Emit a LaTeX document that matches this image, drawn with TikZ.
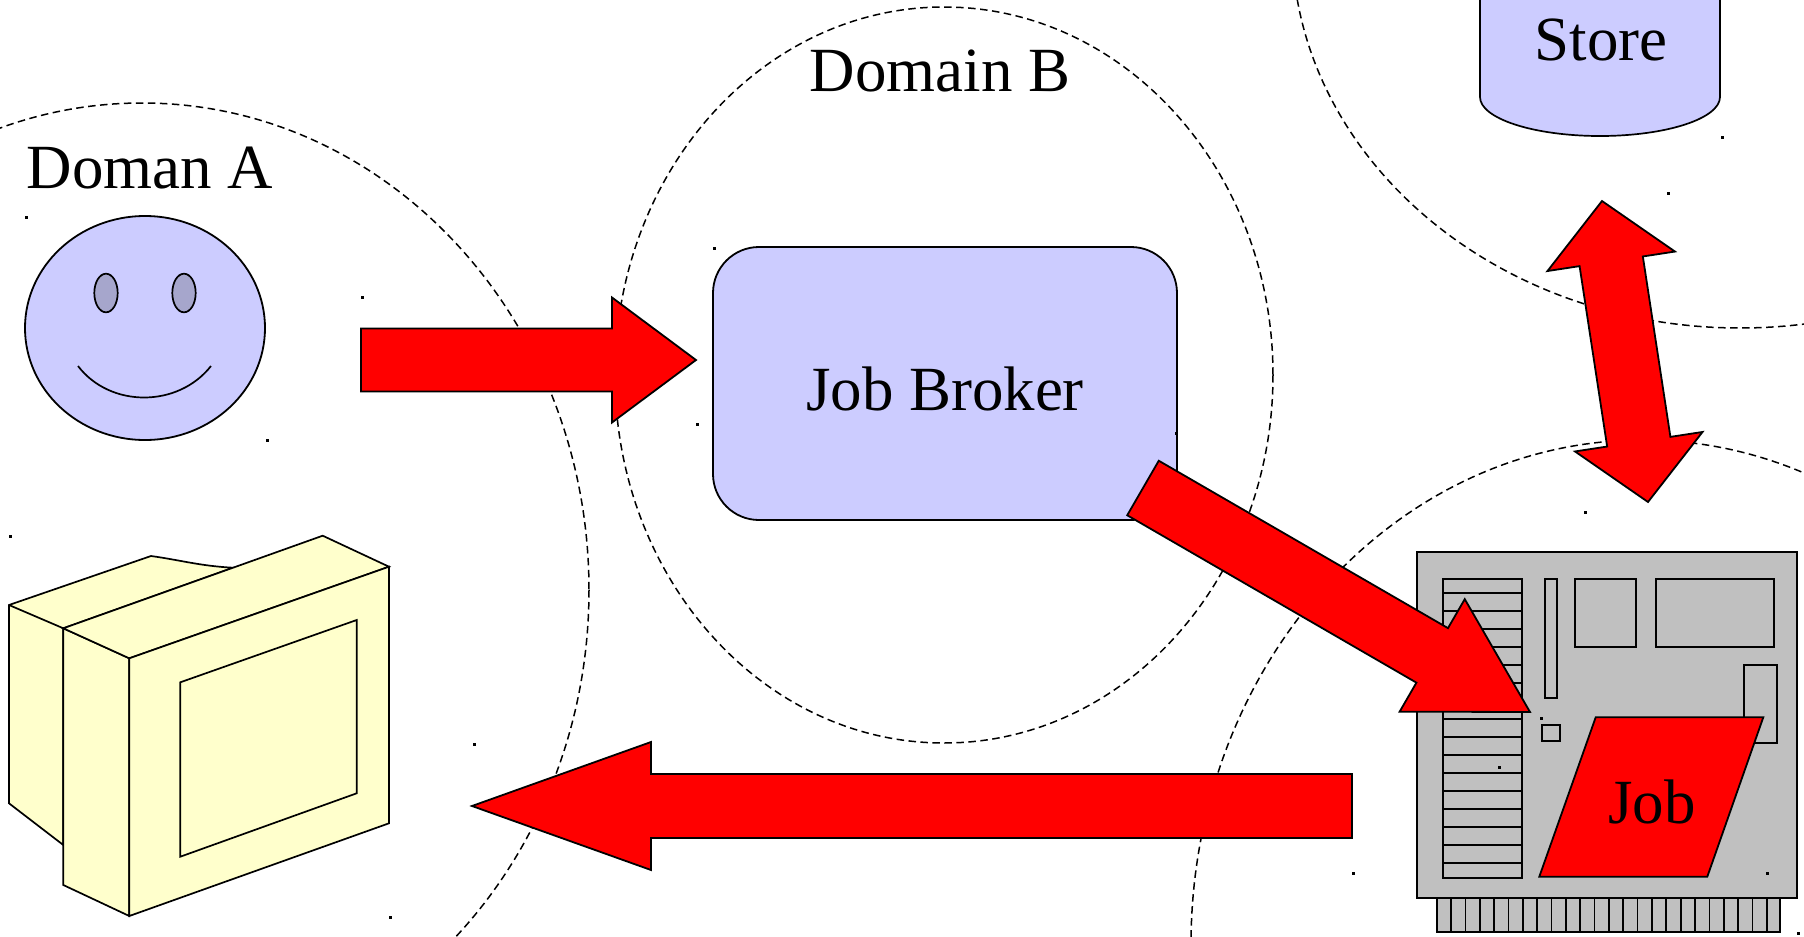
\documentclass[tikz,border=0pt]{standalone}
\usepackage{fontspec}
\setmainfont{Liberation Serif}
\usetikzlibrary{calc}
\usetikzlibrary{shapes.geometric}
\definecolor{lilac}{RGB}{204,204,255}
\definecolor{eyegrey}{RGB}{166,166,204}
\definecolor{cream}{RGB}{255,255,204}
\definecolor{boardgrey}{RGB}{192,192,192}
\tikzset{zoneline/.style={draw,dash pattern=on 0.75mm off 0.45mm,line width=0.15mm}}
\tikzset{part/.style={draw,line width=0.17mm}}
\tikzset{fat/.style={fill=red,draw=black,line width=0.18mm,line join=miter}}
\tikzset{lbl/.style={font=\fontsize{17.9pt}{20pt}\selectfont,inner sep=0pt}}
\tikzset{box/.style={draw,fill=lilac,line width=0.18mm,inner sep=0pt}}
\tikzset{face/.style={ellipse,draw,fill=lilac,line width=0.18mm,inner sep=0pt}}
\newcommand{\fatarrow}[5]{%
  \path ($(#2)!#5!(#1)$) coordinate (fa-base);
  \filldraw[fat] ($(#1)!#3!90:(#2)$) -- ($(fa-base)!#3!-90:(#1)$)
    -- ($(fa-base)!#4!-90:(#1)$) -- (#2) -- ($(fa-base)!#4!90:(#1)$)
    -- ($(fa-base)!#3!90:(#1)$) -- ($(#1)!#3!-90:(#2)$) -- cycle;}
\newcommand{\fatdarrow}[5]{%
  \path ($(#1)!#5!(#2)$) coordinate (fa-one) ($(#2)!#5!(#1)$) coordinate (fa-two);
  \filldraw[fat] (#1) -- ($(fa-one)!#4!90:(#2)$) -- ($(fa-one)!#3!90:(#2)$)
    -- ($(fa-two)!#3!-90:(#1)$) -- ($(fa-two)!#4!-90:(#1)$) -- (#2)
    -- ($(fa-two)!#4!90:(#1)$) -- ($(fa-two)!#3!90:(#1)$)
    -- ($(fa-one)!#3!-90:(#2)$) -- ($(fa-one)!#4!-90:(#2)$) -- cycle;}
\begin{document}
\begin{tikzpicture}[x=0.1mm,y=-0.1mm]
\useasboundingbox (0,0) rectangle (1804,937);
\clip (0,0) rectangle (1804,937);

% domains
\draw[zoneline] (142,590) ellipse [x radius=447, y radius=487];
\draw[zoneline] (944,375) ellipse [x radius=329, y radius=368];
\draw[zoneline] (1740,-60) ellipse [x radius=448, y radius=388];
\draw[zoneline] (1643,945) ellipse [x radius=452, y radius=505];

\node[lbl, anchor=base] (doma) at (150,188) {Doman A};
\node[lbl, anchor=base] (domb) at (940,91) {Domain B};

% user
\node[face, minimum width=24mm, minimum height=22.4mm] (user) at (145,328) {};
\filldraw[part, fill=eyegrey] (106,293) ellipse [x radius=11.7, y radius=19.3];
\filldraw[part, fill=eyegrey] (184,293) ellipse [x radius=11.7, y radius=19.3];
\draw[part] (78,366) .. controls (110,408) and (178,408) .. (211,366);

% monitor
\filldraw[part, fill=cream] (9,605) -- (151,556) .. controls (180,560) and (200,566) .. (233,567.7)
  -- (63.3,628.3) -- (63.3,845) -- (9,803.3) -- cycle;
\draw[part] (9,605) -- (63.3,628.3);
\filldraw[part, fill=cream] (63.3,628.3) -- (129.3,658.3) -- (129.3,916) -- (63.3,885) -- cycle;
\filldraw[part, fill=cream] (63.3,628.3) -- (322.7,535.7) -- (389,566.7) -- (129.3,658.3) -- cycle;
\filldraw[part, fill=cream] (129.3,658.3) -- (389,566.7) -- (389,823.3) -- (129.3,916) -- cycle;
\draw[part] (180.3,682.3) -- (356.7,620) -- (356.7,793.3) -- (180.3,856.7) -- cycle;
\coordinate (monitor) at (389,806);

% broker
\node[box, lbl, rounded corners=4.6mm, minimum width=46.4mm, minimum height=27.3mm,
  text height=5.3mm, text depth=0pt] (broker) at (945,383.5) {Job Broker};

% store
\filldraw[part, fill=lilac] (1480,-20) -- (1480,97) arc[start angle=180, end angle=0, x radius=120, y radius=39] -- (1720,-20) -- cycle;
\node[lbl, anchor=base] (store) at (1601,60) {Store};

% worker board
\filldraw[part, fill=boardgrey] (1436.7,898) rectangle (1780,931.7);
\foreach \i in {1,...,23}
  \draw[part] ({1436.7+14.35*\i},898) -- ++(0,33.7);
\filldraw[part, fill=boardgrey] (1416.7,551.7) rectangle (1797.3,898.3);
\draw[part] (1442.7,579) rectangle (1522.3,878.3);
\foreach \k in {0,...,15}
  \draw[part] (1442.7,{593.3+18*\k}) -- (1522.3,{593.3+18*\k});
\draw[part] (1545,579) rectangle (1557.3,698.3);
\draw[part] (1574.7,579) rectangle (1636,647.3);
\draw[part] (1656.3,579) rectangle (1773.7,647.3);
\draw[part] (1744,665.3) rectangle (1776.7,743.3);
\draw[part] (1542.3,725) rectangle (1560.3,740.7);
\filldraw[fat] (1595.7,717.3) -- (1763.3,717.3) -- (1707.3,876.7) -- (1539.3,876.7) -- cycle;
\node[lbl, anchor=base] (job) at (1652,823) {Job};

% stray specks
\foreach \x/\y in {25/216, 361/296, 266/439, 9/535, 389/916, 713/247, 696/423, 1175/432,
  473/743, 1721/136, 1667/192, 1584/511, 1540/717, 1498/766, 1766/872, 1797/932, 1352/872}
  \fill (\x,\y) rectangle ++(2.6,2.6);

% transfers
\coordinate (a1s) at (361,360);
\coordinate (a1e) at (696,360);
\coordinate (a2s) at (1352,806);
\coordinate (a2e) at (472,806);
\coordinate (a3s) at (1143,488);
\coordinate (a3e) at (1530,712);
\coordinate (a4s) at (1602,201);
\coordinate (a4e) at (1648,502);
\fatarrow{a1s}{a1e}{3.15mm}{6.25mm}{8.4mm}
\fatarrow{a3s}{a3e}{3.15mm}{6.5mm}{11.3mm}
\fatarrow{a2s}{a2e}{3.2mm}{6.4mm}{17.9mm}
\fatdarrow{a4s}{a4e}{3.2mm}{6.45mm}{6.1mm}
\end{tikzpicture}
\end{document}
